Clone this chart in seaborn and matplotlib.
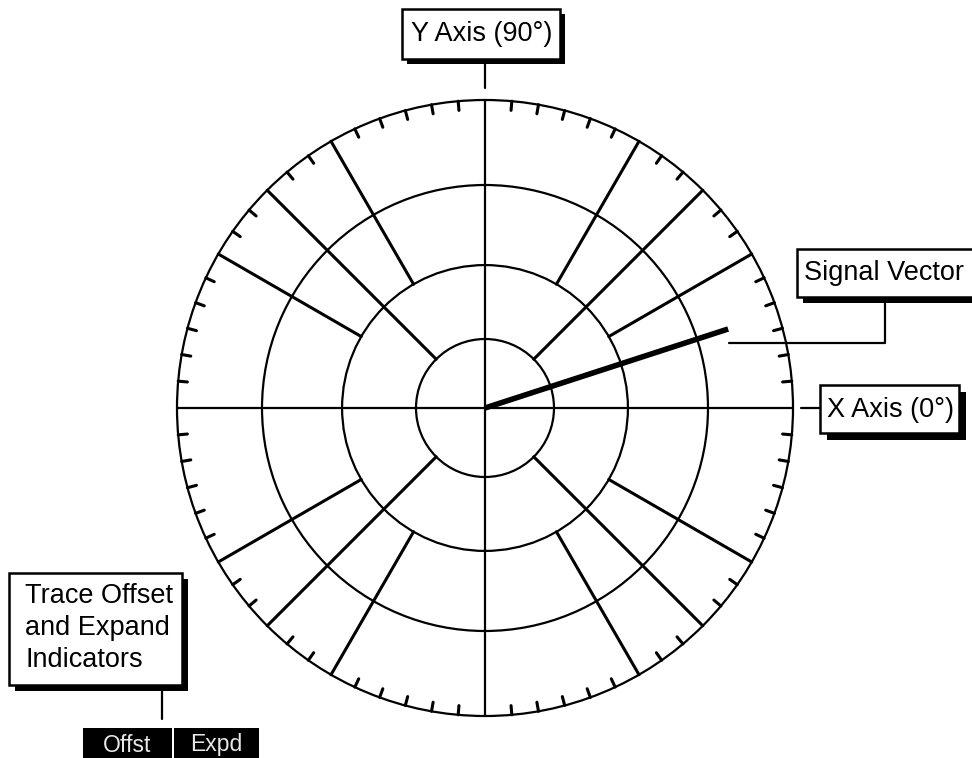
import numpy as np
import pandas as pd
import matplotlib
matplotlib.use("Agg")
import matplotlib.pyplot as plt
from matplotlib.patches import Circle, Rectangle
import seaborn as sns

# ---------------- data ----------------
ring_radii = [0.224, 0.464, 0.724, 1.0]
axis_angles_deg = [0, 90, 180, 270]
diag_spoke_angles_deg = [45, 135, 225, 315]          # start at ring 1
mid_spoke_angles_deg = [30, 60, 120, 150, 210, 240, 300, 330]  # start at ring 2
tick_step_deg = 5
tick_length = 0.03
vector_angle_deg = 18
vector_magnitude = 0.83
label_y_axis = "Y Axis (90°)"
label_x_axis = "X Axis (0°)"
label_signal = "Signal Vector"
label_trace = "Trace Offset\nand Expand\nIndicators"
indicator_labels = ["Offst", "Expd"]

# ---------------- style ----------------
sns.set_theme(style="white")
plt.rcParams['font.family'] = ['Liberation Sans', 'DejaVu Sans']
plt.rcParams['text.color'] = 'black'

W, H = 972, 758
CX, CY, R = 485, 408, 308

fig = plt.figure(figsize=(W / 100, H / 100), dpi=100)
ax = fig.add_axes([0, 0, 1, 1])


def px(x, y):
    return ((x - CX) / R, (CY - y) / R)


def polar(r, a):
    t = np.deg2rad(a)
    return r * np.cos(t), r * np.sin(t)


# rings
for r in ring_radii:
    ax.add_patch(Circle((0, 0), r, fill=False, ec='black', lw=1.6, zorder=2))

# main axes lines
for a in axis_angles_deg:
    x1, y1 = polar(ring_radii[-1], a)
    ax.plot([0, x1], [0, y1], color='black', lw=1.6, zorder=2)

# spokes
for a in diag_spoke_angles_deg:
    x0, y0 = polar(ring_radii[0], a)
    x1, y1 = polar(ring_radii[-1], a)
    ax.plot([x0, x1], [y0, y1], color='black', lw=2.2, zorder=2)
for a in mid_spoke_angles_deg:
    x0, y0 = polar(ring_radii[1], a)
    x1, y1 = polar(ring_radii[-1], a)
    ax.plot([x0, x1], [y0, y1], color='black', lw=2.2, zorder=2)

# tick marks on outer ring
skip = set(axis_angles_deg) | set(diag_spoke_angles_deg) | set(mid_spoke_angles_deg)
tick_angles = [a for a in range(0, 360, tick_step_deg) if a not in skip]
for a in tick_angles:
    x0, y0 = polar(ring_radii[-1], a)
    x1, y1 = polar(ring_radii[-1] - tick_length, a)
    ax.plot([x0, x1], [y0, y1], color='black', lw=2.2, zorder=2)

# signal vector
vx, vy = polar(vector_magnitude, vector_angle_deg)
vec = pd.DataFrame({'x': [0.0, vx], 'y': [0.0, vy]})
sns.lineplot(data=vec, x='x', y='y', ax=ax, color='black', lw=4.0,
             sort=False, legend=False, zorder=3, solid_capstyle='butt')


# ---------------- callout boxes ----------------
def box(x0, y0, x1, y1, shadow=6):
    sx0, sy1 = px(x0 + shadow, y1 + shadow)
    ax.add_patch(Rectangle((sx0, sy1), (x1 - x0) / R, (y1 - y0) / R,
                           fc='black', ec='black', lw=0, zorder=4))
    bx0, by1 = px(x0, y1)
    ax.add_patch(Rectangle((bx0, by1), (x1 - x0) / R, (y1 - y0) / R,
                           fc='white', ec='black', lw=1.8, zorder=5))


def line(points, lw=1.6):
    xs, ys = zip(*[px(x, y) for x, y in points])
    ax.plot(xs, ys, color='black', lw=lw, zorder=3)


# Y axis label
box(402, 9, 560, 59, shadow=5)
ax.text(*px(482, 34), label_y_axis, ha='center', va='center', fontsize=19.5,
        color='black', zorder=6)
line([(485, 59), (485, 88)])

# X axis label
box(820, 385, 959, 433, shadow=7)
ax.text(*px(890, 410), label_x_axis, ha='center', va='center', fontsize=19.5,
        color='black', zorder=6)
line([(801, 408), (820, 408)])

# Signal vector label
box(797, 249, 990, 297, shadow=6)
ax.text(*px(804, 273), label_signal, ha='left', va='center', fontsize=19.5,
        color='black', zorder=6)
line([(885, 297), (885, 343), (729, 343)])

# Trace offset label
box(9, 573, 182, 685, shadow=6)
ax.text(*px(25, 628), label_trace, ha='left', va='center', fontsize=19.5,
        color='black', zorder=6, linespacing=1.3)
line([(162, 690), (162, 719)])

# indicator boxes
ind_boxes = [(83, 728, 172, 760), (174, 728, 259, 760)]
for (x0, y0, x1, y1), lab in zip(ind_boxes, indicator_labels):
    bx0, by1 = px(x0, y1)
    ax.add_patch(Rectangle((bx0, by1), (x1 - x0) / R, (y1 - y0) / R,
                           fc='black', ec='none', zorder=5))
    ax.text(*px((x0 + x1) / 2, 745), lab, ha='center', va='center',
            fontsize=16.5, color='#e8e8e8', zorder=6,
            family=['Liberation Sans', 'DejaVu Sans'])

ax.set_xlim(-CX / R, (W - CX) / R)
ax.set_ylim((CY - H) / R, CY / R)
ax.set_aspect('auto')
ax.axis('off')

fig.savefig('out.png', dpi=100, facecolor='white')
